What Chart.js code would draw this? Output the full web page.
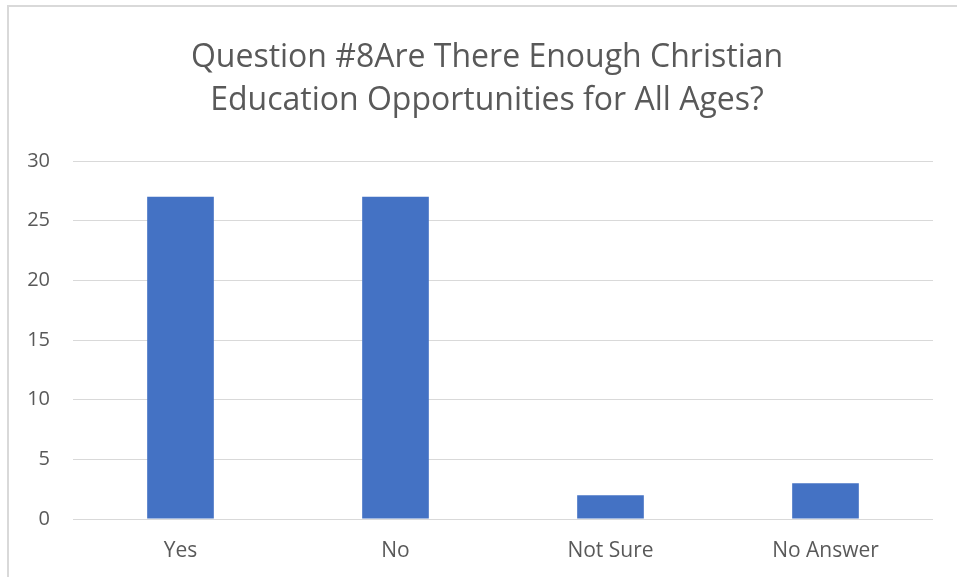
<!DOCTYPE html>
<html>
<head>
<meta charset="utf-8">
<script src="https://cdn.jsdelivr.net/npm/chart.js@4"></script>
<style>
  html, body { margin: 0; padding: 0; background: #fff; overflow: hidden; }
  #wrap { position: relative; width: 957px; height: 577px; }
  #frame { position: absolute; left: 7px; top: 5px; width: 1000px; height: 700px; border: 2px solid #d9d9d9; box-sizing: border-box; }
  #c { position: absolute; left: 0; top: 0; }
</style>
</head>
<body>
<div id="wrap">
  <div id="frame"></div>
  <canvas id="c" width="957" height="577"></canvas>
</div>
<script>
// chart data
const titleLines = ['Question #8Are There Enough Christian', 'Education Opportunities for All Ages?'];
const categories = ['Yes', 'No', 'Not Sure', 'No Answer'];
const responses = [27, 27, 2, 3];
const yTicks = { min: 0, max: 30, step: 5 };

const FONT = '"Open Sans", sans-serif';
const GREY = '#595959';

// title drawn by hand so it can sit off-centre like the original
const titlePlugin = {
  id: 'sheetTitle',
  afterDraw(chart) {
    const ctx = chart.ctx;
    ctx.save();
    ctx.fillStyle = GREY;
    ctx.font = '32px ' + FONT;
    ctx.textAlign = 'center';
    ctx.textBaseline = 'middle';
    titleLines.forEach((t, i) => ctx.fillText(t, 487, 58 + i * 43));
    ctx.restore();
  }
};

new Chart(document.getElementById('c'), {
  type: 'bar',
  data: {
    labels: categories,
    datasets: [{
      label: 'Responses',
      data: responses,
      backgroundColor: '#4472C4',
      borderWidth: 0,
      categoryPercentage: 1,
      barPercentage: 0.31
    }]
  },
  options: {
    responsive: false,
    animation: false,
    layout: { padding: { left: 0, right: 24, top: 161, bottom: 0 } },
    plugins: {
      legend: { display: false },
      tooltip: { enabled: false },
      title: { display: false }
    },
    scales: {
      x: {
        grid: { display: false },
        border: { display: false },
        ticks: { color: GREY, font: { family: FONT, size: 21 }, padding: 11 },
        afterFit: s => { s.height = 58; }
      },
      y: {
        min: yTicks.min,
        max: yTicks.max,
        grid: { color: '#d9d9d9', lineWidth: 1, drawTicks: false },
        border: { display: false },
        ticks: { stepSize: yTicks.step, color: GREY, font: { family: FONT, size: 20 }, padding: 23 },
        afterFit: s => { s.width = 73; }
      }
    }
  },
  plugins: [titlePlugin]
});
</script>
</body>
</html>
